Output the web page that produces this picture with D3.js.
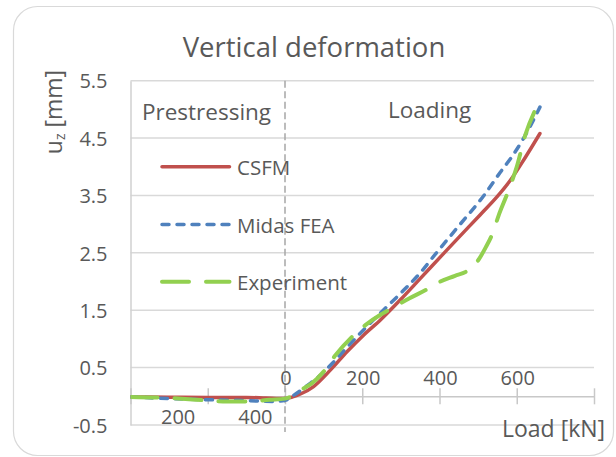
<!DOCTYPE html>
<html>
<head>
<meta charset="utf-8">
<script src="https://cdn.jsdelivr.net/npm/d3@7"></script>
<style>
	body{margin:0;background:#fff;}
	text{font-family:"Open Sans", sans-serif;fill:#595959;}
</style>
</head>
<body>
<div id="c-svg"></div>
<script>
//axis values
let loadTicks = [-400, -200, 0, 200, 400, 600, 800];
let loadLabels = [0, 200, 400, 600];
let prestressLabels = [200, 400];
let uzTicks = [-0.5, 0.5, 1.5, 2.5, 3.5, 4.5, 5.5];
let prestressForce = 478;

let seriesNames = ["CSFM", "Midas FEA", "Experiment"];

//negative load = prestressing phase, positive = loading phase
let csfmLoad = [-400, -300, -200, -100, -50, 0, 20, 40, 74, 118, 161, 204, 247, 300, 350, 411, 450, 505, 552, 583, 620, 660];
let csfmUz = [-0.01, -0.015, -0.02, -0.02, -0.03, -0.04, -0.01, 0.04, 0.17, 0.46, 0.78, 1.07, 1.33, 1.69, 2.05, 2.49, 2.77, 3.16, 3.5, 3.76, 4.14, 4.58];

let midasLoad = [-400, -300, -200, -100, -30, 0, 23, 60, 92, 126, 160, 195, 247, 294, 350, 392, 450, 515, 557, 590, 618, 660];
let midasUz = [-0.01, -0.04, -0.06, -0.075, -0.09, -0.07, 0.02, 0.2, 0.37, 0.6, 0.85, 1.1, 1.45, 1.76, 2.15, 2.5, 2.97, 3.5, 3.9, 4.2, 4.5, 5.04];

let expLoad = [-400, -300, -230, -150, -90, -40, 0, 49, 70, 100, 131, 174, 208, 247, 273, 320, 372, 402, 440, 475, 501, 520, 538, 553, 576, 600, 622, 650];
let expUz = [-0.01, -0.03, -0.06, -0.09, -0.09, -0.06, -0.04, 0.14, 0.23, 0.43, 0.72, 1.04, 1.24, 1.42, 1.52, 1.7, 1.88, 2.0, 2.1, 2.2, 2.38, 2.6, 2.85, 3.15, 3.54, 4.0, 4.55, 5.02];

function graph(){

	let width = 616;
	let height = 457;
	let plot = {left:130.5, right:594, top:80.7, bottom:425};

	let svg = d3.select("#c-svg")
		.append("svg")
		.attr("width", width)
		.attr("height", height);

	//chart border
	svg.append("rect")
		.attr("x", 13.5).attr("y", 6.5)
		.attr("width", 600).attr("height", 449)
		.attr("rx", 24)
		.attr("fill", "#fff")
		.attr("stroke", "#d9d9d9")
		.attr("stroke-width", 1.2);

	const xScale = d3.scaleLinear()
		.domain([-400, 800])
		.range([plot.left, plot.right]);

	const yScale = d3.scaleLinear()
		.domain([-0.5, 5.5])
		.range([plot.bottom, plot.top]);

	const preScale = d3.scaleLinear()
		.domain([0, prestressForce])
		.range([xScale(-prestressForce), xScale(0)]);

	//gridlines
	svg.append("g")
		.selectAll("line")
		.data(uzTicks)
		.enter()
		.append("line")
		.attr("x1", plot.left).attr("x2", plot.right)
		.attr("y1", d => yScale(d)).attr("y2", d => yScale(d))
		.attr("stroke", "#d9d9d9")
		.attr("stroke-width", 1.5);

	//y axis
	const yAxis = d3.axisLeft(yScale)
		.tickValues(uzTicks)
		.tickSize(0)
		.tickPadding(23)
		.tickFormat(d => d.toFixed(1));

	let gy = svg.append("g")
		.attr("transform", `translate(${plot.left},0)`)
		.call(yAxis);
	gy.select(".domain").attr("stroke", "#d0d0d0").attr("stroke-width", 1.5);
	gy.selectAll("text")
		.style("font-family", "'Open Sans', sans-serif")
		.style("font-size", "20px")
		.attr("fill", "#595959")
		.attr("dy", "0.36em");

	//zero line with ticks (x axis)
	const xAxis = d3.axisBottom(xScale)
		.tickValues(loadTicks)
		.tickSizeInner(8)
		.tickSizeOuter(0)
		.tickFormat("");

	let gx = svg.append("g")
		.attr("transform", `translate(0,${yScale(0)})`)
		.call(xAxis);
	gx.select(".domain").attr("stroke", "#c8c8c8").attr("stroke-width", 1.5);
	gx.selectAll(".tick line")
		.attr("y1", -8)
		.attr("stroke", "#c8c8c8")
		.attr("stroke-width", 1.5);

	//loading labels, above the zero line
	svg.append("g")
		.selectAll("text")
		.data(loadLabels)
		.enter()
		.append("text")
		.attr("x", d => xScale(d) + 1)
		.attr("y", yScale(0) - 11)
		.attr("text-anchor", "middle")
		.style("font-size", "20px")
		.text(d => d);

	//prestressing labels, on the bottom line
	const preAxis = d3.axisTop(preScale)
		.tickValues(prestressLabels)
		.tickSize(0)
		.tickPadding(1);

	let gp = svg.append("g")
		.attr("transform", `translate(0,${plot.bottom})`)
		.call(preAxis);
	gp.select(".domain").remove();
	gp.selectAll("text")
		.style("font-family", "'Open Sans', sans-serif")
		.style("font-size", "20px")
		.attr("fill", "#595959");

	//phase divider
	svg.append("line")
		.attr("x1", xScale(0)).attr("x2", xScale(0))
		.attr("y1", plot.top).attr("y2", plot.bottom + 7)
		.attr("stroke", "#a6a6a6")
		.attr("stroke-width", 1.5)
		.attr("stroke-dasharray", "7,3.5");

	//curves
	svg.append("clipPath")
		.attr("id", "clip")
		.append("rect")
		.attr("x", plot.left).attr("y", plot.top - 20)
		.attr("width", plot.right - plot.left).attr("height", plot.bottom - plot.top + 40);

	let series = [
		{name:seriesNames[0], load:csfmLoad, uz:csfmUz, color:"#c0504d", dash:null, w:3.5},
		{name:seriesNames[1], load:midasLoad, uz:midasUz, color:"#4f81bd", dash:"7,8", w:3.5},
		{name:seriesNames[2], load:expLoad, uz:expUz, color:"#92d050", dash:"27,17", w:4}
	];

	const line = d3.line()
		.x(d => xScale(d[0]))
		.y(d => yScale(d[1]))
		.curve(d3.curveMonotoneX);

	let gc = svg.append("g").attr("clip-path", "url(#clip)");
	series.forEach(s => {
		gc.append("path")
			.datum(s.load.map((v, i) => [v, s.uz[i]]))
			.attr("d", line)
			.attr("fill", "none")
			.attr("stroke", s.color)
			.attr("stroke-width", s.w)
			.attr("stroke-linecap", "round")
			.attr("stroke-dasharray", s.dash);
	});

	//legend
	let legendY = [166.7, 224.5, 281.7];
	let legend = svg.append("g");
	series.forEach((s, i) => {
		legend.append("line")
			.attr("x1", 162).attr("x2", 229.5)
			.attr("y1", legendY[i]).attr("y2", legendY[i])
			.attr("stroke", s.color)
			.attr("stroke-width", s.w)
			.attr("stroke-linecap", "round")
			.attr("stroke-dasharray", s.dash);
		legend.append("text")
			.attr("x", 237)
			.attr("y", legendY[i] + 8)
			.style("font-size", "20.5px")
			.text(s.name);
	});

	//phase labels
	svg.append("text")
		.attr("x", 142).attr("y", 120)
		.style("font-size", "22.5px")
		.text("Prestressing");

	svg.append("text")
		.attr("x", 388).attr("y", 118)
		.style("font-size", "22.5px")
		.text("Loading");

	//title
	svg.append("text")
		.attr("x", 314).attr("y", 57)
		.attr("text-anchor", "middle")
		.style("font-size", "27.5px")
		.text("Vertical deformation");

	//axis titles
	let yt = svg.append("text")
		.attr("transform", "translate(62,112) rotate(-90)")
		.attr("text-anchor", "middle")
		.style("font-size", "23px");
	yt.append("tspan").text("u");
	yt.append("tspan").attr("dy", 3).style("font-size", "14px").text("z");
	yt.append("tspan").attr("dy", -3).text(" [mm]");

	svg.append("text")
		.attr("x", 502).attr("y", 437)
		.style("font-size", "23px")
		.text("Load [kN]");

} //function graph

graph();
</script>
</body>
</html>
